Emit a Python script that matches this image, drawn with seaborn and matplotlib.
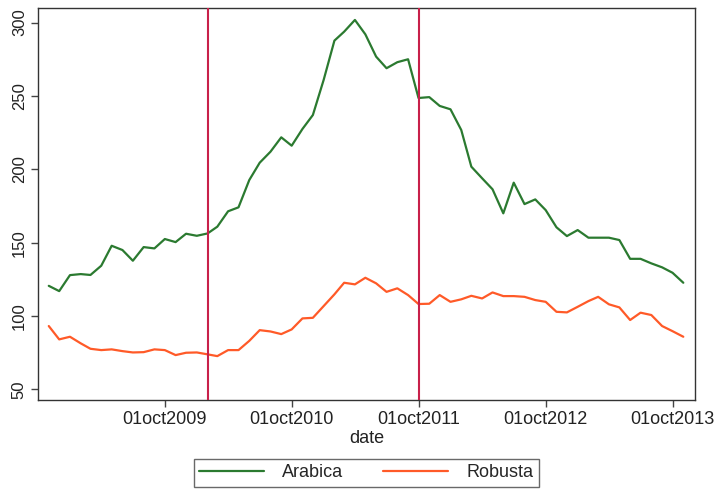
import matplotlib
matplotlib.use("Agg")
import matplotlib.pyplot as plt
import matplotlib.dates as mdates
import numpy as np
import pandas as pd
import seaborn as sns

# Monthly coffee prices, Nov 2008 - Nov 2013
start_month = "2008-11-01"
arabica = [120.6, 117.0, 127.9, 128.6, 128.0, 134.3, 147.9, 145.0, 137.7, 147.0,
           146.1, 152.5, 150.4, 156.1, 154.7, 156.3, 160.9, 171.4, 174.1, 192.7,
           204.5, 212.0, 221.8, 216.1, 227.5, 237.0, 260.9, 287.7, 293.8, 301.8,
           292.0, 276.8, 268.9, 273.0, 275.0, 248.6, 249.2, 243.2, 240.9, 226.8,
           201.8, 193.9, 186.4, 170.0, 190.9, 176.3, 179.5, 172.2, 160.5, 154.5,
           158.6, 153.4, 153.4, 153.4, 151.8, 139.0, 139.0, 135.9, 133.2, 129.5,
           122.7]
robusta = [93.2, 84.1, 85.9, 81.4, 77.7, 76.8, 77.3, 76.1, 75.2, 75.4,
           77.3, 76.8, 73.4, 75.0, 75.2, 73.9, 72.7, 76.8, 76.8, 83.1,
           90.4, 89.5, 87.7, 90.9, 98.4, 98.8, 106.8, 114.8, 122.7, 121.6,
           126.1, 122.3, 116.5, 118.9, 114.3, 108.2, 108.4, 114.3, 109.7, 111.4,
           113.8, 112.0, 116.1, 113.6, 113.6, 113.1, 110.9, 109.7, 102.9, 102.5,
           106.3, 110.2, 113.1, 108.0, 105.9, 97.3, 102.3, 100.7, 93.2, 89.7,
           85.9]
series_names = ["Arabica", "Robusta"]
break_dates = ["2010-02-01", "2011-10-01"]
tick_dates = ["2009-10-01", "2010-10-01", "2011-10-01", "2012-10-01", "2013-10-01"]
tick_labels = ["01oct2009", "01oct2010", "01oct2011", "01oct2012", "01oct2013"]
y_ticks = [50, 100, 150, 200, 250, 300]

dates = pd.date_range(start_month, periods=len(arabica), freq="MS")
df = pd.concat([
    pd.DataFrame({"date": dates, "price": arabica, "type": series_names[0]}),
    pd.DataFrame({"date": dates, "price": robusta, "type": series_names[1]}),
])

sns.set_theme(style="white")
plt.rcParams["font.family"] = ["Liberation Sans", "DejaVu Sans"]

fig = plt.figure(figsize=(7.17, 4.94), dpi=100)
ax = fig.add_axes([0.053, 0.190, 0.916, 0.794])

palette = {"Arabica": "#2b7a30", "Robusta": "#ff5a28"}
sns.lineplot(data=df, x="date", y="price", hue="type", palette=palette,
             linewidth=1.6, ax=ax, legend=False)

for d in break_dates:
    ax.axvline(pd.Timestamp(d), color="#c8204a", linewidth=1.5, zorder=3)

ax.set_xlim(pd.Timestamp("2008-10-01"), pd.Timestamp("2013-12-04"))
ax.set_ylim(42.7, 310)

ax.set_xticks([pd.Timestamp(d) for d in tick_dates])
ax.set_xticklabels(tick_labels, fontsize=13, color="#222222")
ax.set_yticks(y_ticks)
ax.set_yticklabels([str(v) for v in y_ticks], fontsize=12, rotation=90,
                   va="center", color="#222222")
ax.tick_params(axis="both", direction="out", length=5, width=1,
               color="#444444", bottom=True, left=True, pad=3)

ax.set_xlabel("date", fontsize=13, color="#222222", labelpad=1)
ax.set_ylabel("")

for s in ax.spines.values():
    s.set_color("#333333")
    s.set_linewidth(1.0)

handles = [plt.Line2D([], [], color=palette[n], linewidth=1.6) for n in series_names]
leg = fig.legend(handles, series_names, loc="center",
                 bbox_to_anchor=(0.511, 0.043), ncol=2, fontsize=13,
                 frameon=True, fancybox=False, edgecolor="#444444",
                 handlelength=3.6, columnspacing=2.2, borderpad=0.3,
                 handletextpad=1.0)
leg.get_frame().set_linewidth(1.0)

fig.savefig("out.png", dpi=100, facecolor="white")
